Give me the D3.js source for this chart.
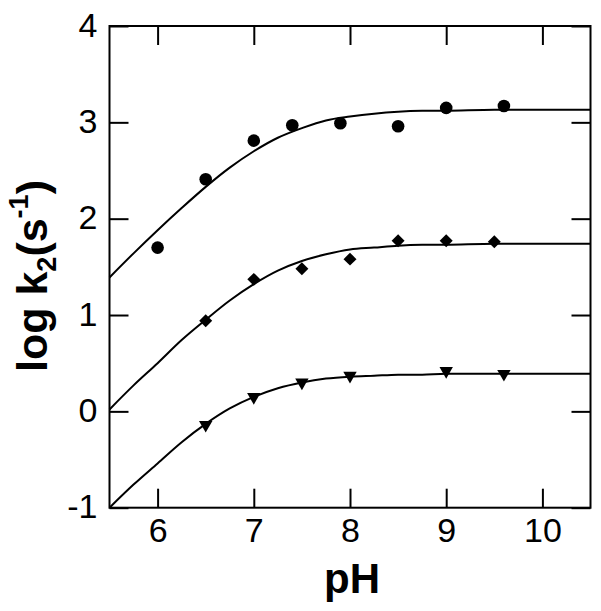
<!DOCTYPE html>
<html>
<head>
<meta charset="utf-8">
<script src="https://cdn.jsdelivr.net/npm/d3@7"></script>
<style>
  body { margin: 0; background: #fff; }
  text { font-family: "Liberation Sans", Arial, Helvetica, sans-serif; }
</style>
</head>
<body>
<div id="wrapper"></div>
<script>
// measured points (pH, log k2)
const circlePts = [[6, 1.70], [6.5, 2.41], [7, 2.81], [7.4, 2.97], [7.9, 2.99], [8.5, 2.96], [9, 3.15], [9.6, 3.17]]
const diamondPts = [[6.5, 0.94], [7, 1.37], [7.5, 1.48], [8, 1.58], [8.5, 1.77], [9, 1.77], [9.5, 1.76]]
const trianglePts = [[6.5, -0.14], [7, 0.15], [7.5, 0.30], [8, 0.37], [9, 0.42], [9.6, 0.39]]

// fitted curves
const curvePH = [5.5, 5.75, 6, 6.25, 6.5, 6.75, 7, 7.25, 7.5, 7.75, 8, 8.25, 8.5, 8.75, 9, 9.5, 10, 10.5]
const curveTop = [1.39, 1.64, 1.88, 2.11, 2.33, 2.53, 2.70, 2.84, 2.94, 3.02, 3.06, 3.09, 3.11, 3.12, 3.12, 3.13, 3.13, 3.13]
const curveMid = [0.02, 0.27, 0.50, 0.74, 0.95, 1.15, 1.32, 1.46, 1.56, 1.63, 1.68, 1.70, 1.72, 1.73, 1.73, 1.74, 1.74, 1.74]
const curveLow = [-1.00, -0.76, -0.54, -0.32, -0.13, 0.03, 0.15, 0.24, 0.30, 0.34, 0.36, 0.37, 0.38, 0.38, 0.39, 0.39, 0.39, 0.39]

const xTicks = [6, 7, 8, 9, 10]
const yTicks = [-1, 0, 1, 2, 3, 4]

const dimensions = {
  width: 601,
  height: 611,
  margin: { top: 26, right: 10.5, bottom: 103.3, left: 109.5 },
}
dimensions.boundedWidth = dimensions.width - dimensions.margin.left - dimensions.margin.right
dimensions.boundedHeight = dimensions.height - dimensions.margin.top - dimensions.margin.bottom

const wrapper = d3.select("#wrapper")
  .append("svg")
    .attr("width", dimensions.width)
    .attr("height", dimensions.height)

const bounds = wrapper.append("g")
    .attr("transform", `translate(${dimensions.margin.left}, ${dimensions.margin.top})`)

// scales
const xScale = d3.scaleLinear()
  .domain([5.5, 10.5])
  .range([0, dimensions.boundedWidth])

const yScale = d3.scaleLinear()
  .domain([-1, 4])
  .range([dimensions.boundedHeight, 0])

const tickLen = 19
const fmt = d => String(d)

// axes (ticks pointing inward on all four sides)
const xAxis = bounds.append("g")
    .attr("transform", `translate(0, ${dimensions.boundedHeight})`)
    .call(d3.axisBottom(xScale).tickValues(xTicks).tickFormat(fmt).tickSizeInner(-tickLen).tickSizeOuter(0).tickPadding(10))
const xAxisTop = bounds.append("g")
    .call(d3.axisTop(xScale).tickValues(xTicks).tickSizeInner(-tickLen).tickSizeOuter(0).tickFormat(""))
const yAxis = bounds.append("g")
    .call(d3.axisLeft(yScale).tickValues(yTicks).tickFormat(fmt).tickSizeInner(-tickLen).tickSizeOuter(0).tickPadding(12))
const yAxisRight = bounds.append("g")
    .attr("transform", `translate(${dimensions.boundedWidth}, 0)`)
    .call(d3.axisRight(yScale).tickValues(yTicks).tickSizeInner(-tickLen).tickSizeOuter(0).tickFormat(""))

;[xAxis, xAxisTop, yAxis, yAxisRight].forEach(a => {
  a.attr("font-size", 34)
   .attr("font-family", "Liberation Sans, Arial, sans-serif")
})

bounds.selectAll(".domain").remove()
bounds.selectAll(".tick line")
    .attr("stroke", "#000")
    .attr("stroke-width", 2)
bounds.selectAll(".tick text")
    .attr("fill", "#000")

yAxis.selectAll(".tick text").attr("dy", "0.30em")

// frame
bounds.append("rect")
    .attr("width", dimensions.boundedWidth)
    .attr("height", dimensions.boundedHeight)
    .attr("fill", "none")
    .attr("stroke", "#000")
    .attr("stroke-width", 2)

// fitted lines
const lineGenerator = d3.line()
  .x((d, i) => xScale(curvePH[i]))
  .y(d => yScale(d))
  .curve(d3.curveCatmullRom)

;[curveTop, curveMid, curveLow].forEach(c => {
  bounds.append("path")
      .attr("d", lineGenerator(c))
      .attr("fill", "none")
      .attr("stroke", "#000")
      .attr("stroke-width", 2)
})

// markers
bounds.selectAll(".circle-pt")
    .data(circlePts)
  .enter().append("circle")
    .attr("cx", d => xScale(d[0]))
    .attr("cy", d => yScale(d[1]))
    .attr("r", 6.3)
    .attr("fill", "#000")

const diamond = d3.symbol().type(d3.symbolSquare).size(84)
bounds.selectAll(".diamond-pt")
    .data(diamondPts)
  .enter().append("path")
    .attr("d", diamond)
    .attr("transform", d => `translate(${xScale(d[0])}, ${yScale(d[1])}) rotate(45)`)
    .attr("fill", "#000")

const triangle = d3.symbol().type(d3.symbolTriangle).size(78)
bounds.selectAll(".triangle-pt")
    .data(trianglePts)
  .enter().append("path")
    .attr("d", triangle)
    .attr("transform", d => `translate(${xScale(d[0])}, ${yScale(d[1])}) rotate(180)`)
    .attr("fill", "#000")

// axis titles
wrapper.append("text")
    .attr("x", dimensions.margin.left + dimensions.boundedWidth / 2 + 2)
    .attr("y", 593)
    .attr("text-anchor", "middle")
    .style("font-size", "42px")
    .style("font-weight", "bold")
    .text("pH")

const yLabel = wrapper.append("text")
    .attr("transform", "translate(47, 276) rotate(-90)")
    .attr("text-anchor", "middle")
    .style("font-size", "43px")
    .style("font-weight", "bold")
yLabel.append("tspan").text("log k")
yLabel.append("tspan").text("2").style("font-size", "27px").attr("dy", 9)
yLabel.append("tspan").text("(s").attr("dy", -9)
yLabel.append("tspan").text("-1").style("font-size", "27px").attr("dy", -19)
yLabel.append("tspan").text(")").attr("dy", 19)
</script>
</body>
</html>
